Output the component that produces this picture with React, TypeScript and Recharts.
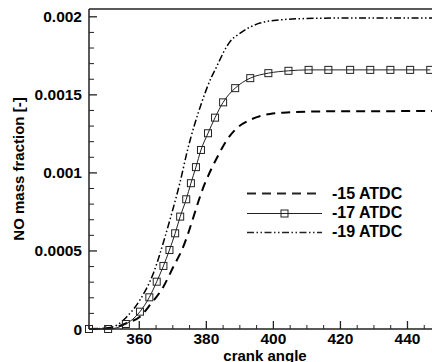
import { Legend, Line, LineChart, ReferenceLine, XAxis, YAxis } from 'recharts'

const xTicks = [360, 380, 400, 420, 440]
const xMinorTicks = [345, 350, 355, 360, 365, 370, 375, 380, 385, 390, 395, 400, 405, 410, 415, 420, 425, 430, 435, 440, 445, 450]
const yTicks = [0, 0.0005, 0.001, 0.0015, 0.002]
const yMinorTicks = [
  0, 0.0001, 0.0002, 0.0003, 0.0004, 0.0005, 0.0006, 0.0007, 0.0008, 0.0009, 0.001,
  0.0011, 0.0012, 0.0013, 0.0014, 0.0015, 0.0016, 0.0017, 0.0018, 0.0019, 0.002,
]

const seriesNames = ['-15 ATDC', '-17 ATDC', '-19 ATDC']

// -15 ATDC (dashed)
const angle15 = [345, 350, 353, 356.5, 360.2, 363.2, 367.2, 370.2, 372.7, 379.6, 383.6, 386.1, 389.1, 393.1, 399, 404, 411, 420, 450]
const no15 = [0, 0.000003, 0.000012, 0.00004, 0.000079, 0.000154, 0.000271, 0.0004, 0.000506, 0.000934, 0.001115, 0.00121, 0.001287, 0.00134, 0.001378, 0.001387, 0.001393, 0.001395, 0.001396]

// -17 ATDC (solid, square symbols)
const angle17 = [345, 350.7, 356, 360.2, 363, 365.2, 367.2, 369, 370.7, 372.2, 374, 375.4, 376.9, 378.4, 380.5, 382.6, 385, 388.6, 393.1, 398.5, 404.5, 410.5, 416.4, 422.9, 428.9, 434.9, 440.8, 446.8]
const no17 = [0, 0, 0.000032, 0.000111, 0.000203, 0.000303, 0.000404, 0.000506, 0.000613, 0.00072, 0.000831, 0.000934, 0.001037, 0.001147, 0.001254, 0.001354, 0.001452, 0.001543, 0.001607, 0.001639, 0.001654, 0.00166, 0.00166, 0.00166, 0.00166, 0.00166, 0.00166, 0.00166]

// -19 ATDC (dash-dot-dot)
const angle19 = [345, 349, 352.3, 356.3, 360.2, 364.2, 367.7, 369.7, 372.1, 374.4, 378.6, 381.6, 382.6, 386.1, 387.1, 390.1, 396, 402, 407, 420, 450]
const no19 = [0, 0.000004, 0.000015, 0.000079, 0.000186, 0.000357, 0.000592, 0.000742, 0.000935, 0.001147, 0.00145, 0.001617, 0.00166, 0.00181, 0.001842, 0.001895, 0.00196, 0.00198, 0.001987, 0.001992, 0.001993]

const toRows = (angles: number[], values: number[]) =>
  angles.map((angle, i) => ({ angle, no: values[i] }))

const rows15 = toRows(angle15, no15)
const rows17 = toRows(angle17, no17)
const rows19 = toRows(angle19, no19)

const FONT = '"Liberation Sans", Arial, sans-serif'
const INK = '#000'
const AXIS = '#222'
const X_GAP = 4
const Y_GAP = 7
const X_DOMAIN: [number, number] = [345, 450]
const Y_DOMAIN: [number, number] = [0, 0.00205]

const dash15 = '9 6'
const dash19 = '7 2.5 1.5 2.5 1.5 2.5'

const labelStyle = { fontFamily: FONT, fontWeight: 'bold', fontSize: 15, fill: INK }

function XTick(props: any) {
  const { x, y, payload } = props
  const major = xTicks.includes(payload.value)
  const axisY = y - X_GAP
  return (
    <g>
      <line x1={x} x2={x} y1={axisY} y2={axisY - (major ? 8 : 4)} stroke={AXIS} strokeWidth={major ? 1.3 : 1} />
      {major && (
        <text x={x} y={y} dy="0.71em" textAnchor="middle" {...labelStyle} fontSize={15.5}>
          {payload.value}
        </text>
      )}
    </g>
  )
}

function YTick(props: any) {
  const { x, y, payload } = props
  const major = yTicks.includes(payload.value)
  const axisX = x + Y_GAP
  return (
    <g>
      <line x1={axisX} x2={axisX + (major ? 8 : 5)} y1={y} y2={y} stroke={AXIS} strokeWidth={major ? 1.3 : 1} />
      {major && (
        <text x={x} y={y} dy="0.355em" textAnchor="end" {...labelStyle} fontSize={15.5}>
          {String(payload.value)}
        </text>
      )}
    </g>
  )
}

function SquareDot(props: any) {
  const { cx, cy, index } = props
  if (cx == null || cy == null) return null
  return (
    <rect
      key={`sq-${index}`}
      x={cx - 3.5}
      y={cy - 3.5}
      width={7}
      height={7}
      fill="none"
      stroke="#222"
      strokeWidth={1}
    />
  )
}

function YLabel(props: any) {
  const { viewBox } = props
  const cx = viewBox.x + 18
  const cy = viewBox.y + viewBox.height / 2
  return (
    <text
      x={cx}
      y={cy}
      transform={`rotate(-90 ${cx} ${cy})`}
      textAnchor="middle"
      dominantBaseline="central"
      fontFamily={FONT}
      fontWeight="bold"
      fontSize={15}
      fill={INK}
    >
      NO mass fraction [-]
    </text>
  )
}

function LegendContent() {
  const styles = [
    { dash: dash15, width: 2, square: false },
    { dash: undefined, width: 1, square: true },
    { dash: dash19, width: 1.5, square: false },
  ]
  return (
    <div style={{ fontFamily: FONT, fontWeight: 'bold', fontSize: 16, color: INK }}>
      {seriesNames.map((name, i) => (
        <div key={name} style={{ display: 'flex', alignItems: 'center', height: 19.4 }}>
          <svg width={75} height={19} style={{ display: 'block' }}>
            <line x1={0} y1={9.5} x2={75} y2={9.5} stroke="#222" strokeWidth={styles[i].width} strokeDasharray={styles[i].dash} />
            {styles[i].square && <rect x={34} y={6} width={7} height={7} fill="none" stroke="#222" strokeWidth={1} />}
          </svg>
          <span style={{ marginLeft: 10, whiteSpace: 'nowrap' }}>{name}</span>
        </div>
      ))}
    </div>
  )
}

export default function App() {
  return (
    <div style={{ position: 'absolute', left: 0, top: 0, width: 432, height: 362, overflow: 'hidden', background: '#fff' }}>
      <LineChart width={460} height={362} margin={{ top: 9, right: 19, left: 0, bottom: 0 }}>
        <XAxis
          dataKey="angle"
          type="number"
          domain={X_DOMAIN}
          ticks={xMinorTicks}
          interval={0}
          height={33}
          tickLine={false}
          tickSize={0}
          tickMargin={X_GAP}
          axisLine={{ stroke: AXIS, strokeWidth: 1.5 }}
          tick={XTick}
          label={{ value: 'crank angle', position: 'insideBottom', offset: 1, style: labelStyle }}
        />
        <YAxis
          type="number"
          domain={Y_DOMAIN}
          ticks={yMinorTicks}
          interval={0}
          width={89}
          tickLine={false}
          tickSize={0}
          tickMargin={Y_GAP}
          axisLine={{ stroke: AXIS, strokeWidth: 1.5 }}
          tick={YTick}
          label={{ content: YLabel }}
        />
        <ReferenceLine y={Y_DOMAIN[1]} stroke={AXIS} strokeWidth={1.5} />
        <ReferenceLine x={X_DOMAIN[1]} stroke={AXIS} strokeWidth={1.5} />
        <Legend
          layout="vertical"
          align="center"
          verticalAlign="middle"
          content={LegendContent}
          wrapperStyle={{ left: 247, top: 184, width: 'auto' }}
        />
        <Line
          data={rows15}
          dataKey="no"
          name={seriesNames[0]}
          type="monotone"
          stroke={INK}
          strokeWidth={2}
          strokeDasharray={dash15}
          dot={false}
          isAnimationActive={false}
        />
        <Line
          data={rows17}
          dataKey="no"
          name={seriesNames[1]}
          type="monotone"
          stroke="#222"
          strokeWidth={1}
          dot={SquareDot}
          isAnimationActive={false}
        />
        <Line
          data={rows19}
          dataKey="no"
          name={seriesNames[2]}
          type="monotone"
          stroke={INK}
          strokeWidth={1.5}
          strokeDasharray={dash19}
          dot={false}
          isAnimationActive={false}
        />
      </LineChart>
    </div>
  )
}
